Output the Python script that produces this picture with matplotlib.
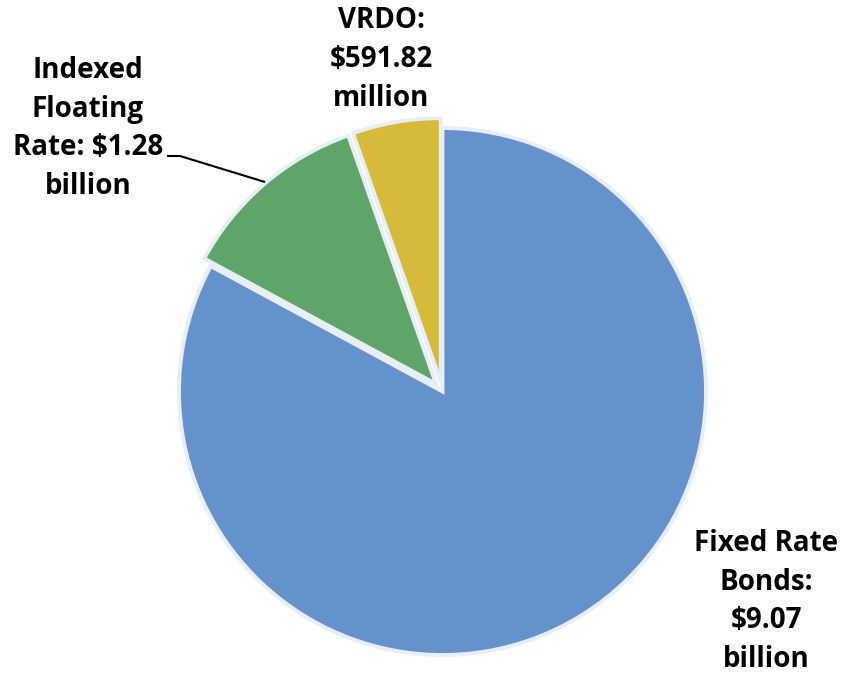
import matplotlib
matplotlib.use("Agg")
import matplotlib.pyplot as plt

categories = ["Fixed Rate Bonds", "Indexed Floating Rate", "VRDO"]
values_billion = [9.07, 1.28, 0.59182]
labels = ["Fixed Rate\nBonds:\n$9.07\nbillion",
          "Indexed\nFloating\nRate: $1.28\nbillion",
          "VRDO:\n$591.82\nmillion"]
colors = ["#6592CC", "#5FA56A", "#D6BB3A"]

W, H = 842, 673
fig = plt.figure(figsize=(W / 100, H / 100), dpi=100)
ax = fig.add_axes([0, 0, 1, 1])

# pie drawn in pixel-sized data units; smaller slices pulled out slightly
cx, cy, r = 442.5, H - 391.5, 263.5
explode = [0.0, 10.0, 10.0]
ax.pie(values_billion, colors=colors, startangle=90, counterclock=False,
       radius=r, center=(cx, cy), explode=explode, frame=True,
       wedgeprops=dict(edgecolor="#E8EEF5", linewidth=2.8))
ax.set_xlim(0, W)
ax.set_ylim(0, H)
ax.set_aspect("equal")
ax.axis("off")

font = dict(family=["Open Sans", "DejaVu Sans"], fontweight="bold",
            fontsize=20, ha="center", va="center", linespacing=1.45,
            color="black")
ax.text(766, H - 601.5, labels[0], **font)
ax.text(88, H - 128.5, labels[1], **font)
ax.text(381, H - 59.5, labels[2], **font)

# leader line for the indexed floating rate label
ax.plot([167, 180, 265], [H - 156, H - 156, H - 182], color="black",
        linewidth=1.5, solid_capstyle="butt")

fig.savefig("out.png", dpi=100, facecolor="white")
